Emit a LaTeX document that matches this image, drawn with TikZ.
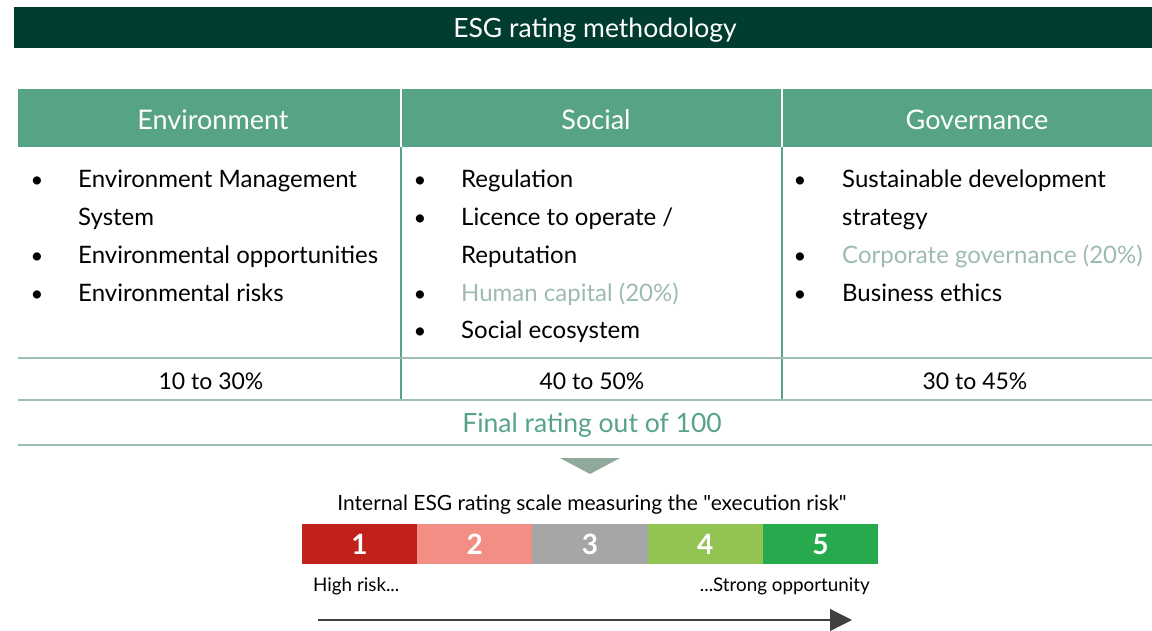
\documentclass[tikz,border=0pt]{standalone}
\usepackage{fontspec}
\setmainfont{Lato}
\newfontfamily\latoplain{Lato}
\usetikzlibrary{arrows.meta,positioning}
\definecolor{esgdark}{HTML}{003D30}
\definecolor{esggreen}{HTML}{56A385}
\definecolor{esgrule}{HTML}{9DBFB0}
\definecolor{esgfaded}{HTML}{9DBBAE}
\definecolor{esgtri}{HTML}{8FAA9B}
\definecolor{esgarrow}{HTML}{404040}
\definecolor{rateone}{HTML}{C0221B}
\definecolor{ratetwo}{HTML}{F28E84}
\definecolor{ratethree}{HTML}{A6A6A6}
\definecolor{ratefour}{HTML}{92C353}
\definecolor{ratefive}{HTML}{27AA4E}
\tikzset{
  headtext/.style={text=white, font=\fontsize{27}{31}\selectfont},
  bodyitem/.style={anchor=base west, inner sep=0pt, font=\fontsize{24}{28}\selectfont},
  bulletdot/.style={anchor=base, inner sep=0pt, font=\fontsize{22}{26}\selectfont},
  ratebox/.style={minimum width=115.2pt, minimum height=40pt, inner sep=0pt, outer sep=0pt, text=white,
    font=\fontsize{28}{32}\selectfont\bfseries},
  rulegreen/.style={draw=esgrule, line width=1.5pt}
}
\begin{document}
\begin{tikzpicture}[x=1pt,y=-1pt]
\useasboundingbox (0,0) rectangle (1152,630);
% title bar
\fill[esgdark] (14,7) rectangle (1152,48);
\node[headtext, font=\fontsize{26.5}{30}\selectfont] (title) at (595,30) {ESG rating methodology};
% header row
\fill[esggreen] (18,89) rectangle (1152,147);
\draw[white, line width=2pt] (401,89) -- (401,147);
\draw[white, line width=2pt] (782,89) -- (782,147);
\node[headtext] (env) at (213,120) {Environment};
\node[headtext] (soc) at (596,120) {Social};
\node[headtext] (gov) at (977,120) {Governance};
% table rules
\draw[esggreen, line width=1.5pt] (401,147) -- (401,400);
\draw[esggreen, line width=1.5pt] (782,147) -- (782,400);
\draw[rulegreen] (18,358) -- (1152,358);
\draw[rulegreen] (18,400) -- (1152,400);
\draw[rulegreen] (18,445) -- (1152,445);
% environment items
\node[bulletdot] (eb1) at (37,187) {\textbullet};
\node[bodyitem] (e1) at (78,187) {Environment Management};
\node[bodyitem] (e1b) at (78,225) {System};
\node[bulletdot] (eb2) at (37,263) {\textbullet};
\node[bodyitem] (e2) at (78,263) {Environmental opportunities};
\node[bulletdot] (eb3) at (37,301) {\textbullet};
\node[bodyitem] (e3) at (78,301) {Environmental risks};
% social items
\node[bulletdot] (sb1) at (420,187) {\textbullet};
\node[bodyitem] (s1) at (461,187) {Regulation};
\node[bulletdot] (sb2) at (420,225) {\textbullet};
\node[bodyitem] (s2) at (461,225) {Licence to operate /};
\node[bodyitem] (s2b) at (461,263) {Reputation};
\node[bulletdot] (sb3) at (420,301) {\textbullet};
\node[bodyitem, text=esgfaded] (s3) at (461,301) {Human capital (20\%)};
\node[bulletdot] (sb4) at (420,338) {\textbullet};
\node[bodyitem] (s4) at (461,338) {Social ecosystem};
% governance items
\node[bulletdot] (gb1) at (800,187) {\textbullet};
\node[bodyitem] (g1) at (842,187) {Sustainable development};
\node[bodyitem] (g1b) at (842,225) {strategy};
\node[bulletdot] (gb2) at (800,263) {\textbullet};
\node[bodyitem, text=esgfaded] (g2) at (842,263) {Corporate governance (20\%)};
\node[bulletdot] (gb3) at (800,301) {\textbullet};
\node[bodyitem] (g3) at (842,301) {Business ethics};
% weights
\node[font=\fontsize{23}{27}\selectfont] (ew) at (211,381) {10 to 30\%};
\node[font=\fontsize{23}{27}\selectfont] (sw) at (592,381) {40 to 50\%};
\node[font=\fontsize{23}{27}\selectfont] (gw) at (975,381) {30 to 45\%};
\node[text=esggreen, font=\fontsize{26.5}{30}\selectfont] (final) at (592,425) {Final rating out of 100};
% down marker
\fill[esgtri] (560,458) -- (620,458) -- (590,474) -- cycle;
% rating scale
\node[font=\fontsize{21}{25}\latoplain] (scale) at (592,505) {Internal ESG rating scale measuring the "execution risk"};
\node[ratebox, fill=rateone] (r1) at (359.6,544) {1};
\node[ratebox, fill=ratetwo, right=0pt of r1] (r2) {2};
\node[ratebox, fill=ratethree, right=0pt of r2] (r3) {3};
\node[ratebox, fill=ratefour, right=0pt of r3] (r4) {4};
\node[ratebox, fill=ratefive, right=0pt of r4] (r5) {5};
\node[anchor=west, inner sep=0pt, font=\fontsize{18.8}{22}\selectfont] (high) at (313,586) {High risk...};
\node[anchor=east, inner sep=0pt, font=\fontsize{18.8}{22}\selectfont] (strong) at (870,586) {...Strong opportunity};
\coordinate (a0) at (318,620);
\coordinate (a1) at (852,620);
\draw[esgarrow, line width=1.2pt, -{Triangle[length=22pt, width=22pt]}] (a0) -- (a1);
\end{tikzpicture}
\end{document}
